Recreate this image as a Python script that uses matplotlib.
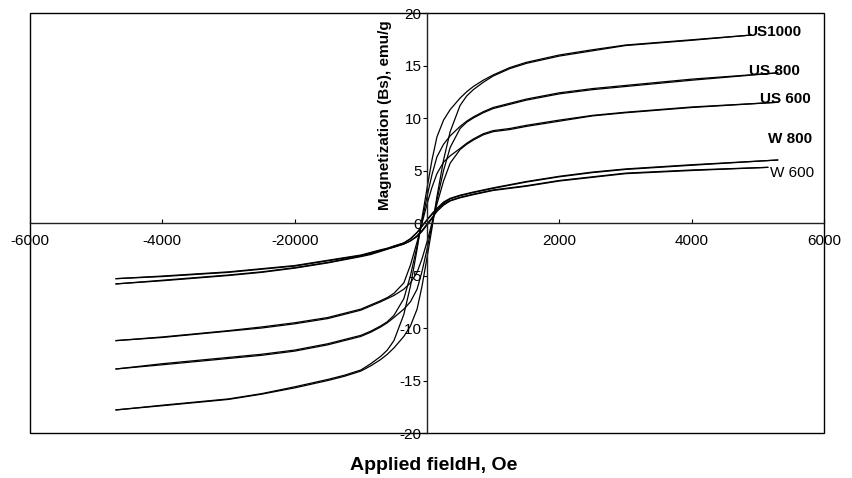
import matplotlib
matplotlib.use('Agg')
from matplotlib import pyplot as plt
from matplotlib.patches import Rectangle

plt.rcParams['font.family'] = ['Liberation Sans', 'DejaVu Sans']
plt.rcParams['axes.unicode_minus'] = False

# applied field (Oe), shared by all branches; last point differs per sample
field = [-4700, -4000, -3500, -3000, -2500, -2000, -1500, -1250, -1000, -850, -700, -600,
         -500, -350, -250, -150, -75, 0, 75, 150, 250, 350, 500, 600, 700, 850, 1000,
         1250, 1500, 2000, 2500, 3000, 3500, 4000]

samples = ['US1000', 'US 800', 'US 600', 'W 800', 'W 600']
field_end = [4900, 5300, 5300, 5300, 5150]

# magnetization (emu/g): ascending (lower) and descending (upper) branch of each loop
us1000_up = [-17.8, -17.4, -17.1, -16.8, -16.3, -15.7, -15.0, -14.6, -14.1, -13.6, -13.0, -12.5,
             -11.9, -10.8, -9.8, -8.2, -6.0, -3.3, -0.5, 2.5, 6.0, 8.7, 11.2, 12.1, 12.7, 13.4, 14.0,
             14.7, 15.2, 15.9, 16.4, 16.9, 17.15, 17.4, 17.9]
us1000_down = [-17.8, -17.35, -17.05, -16.75, -16.25, -15.6, -14.9, -14.5, -14.0, -13.4, -12.7, -12.1,
               -11.2, -8.7, -6.0, -2.5, 0.5, 3.3, 6.0, 8.2, 9.8, 10.8, 11.9, 12.5, 13.0, 13.6, 14.1,
               14.8, 15.3, 16.0, 16.5, 16.95, 17.2, 17.45, 17.9]
us800_up = [-13.9, -13.5, -13.2, -12.9, -12.6, -12.2, -11.6, -11.2, -10.8, -10.4, -9.9, -9.5,
            -9.0, -8.2, -7.5, -6.3, -4.6, -2.5, -0.2, 2.2, 5.0, 7.2, 9.0, 9.6, 10.0, 10.5, 10.9,
            11.3, 11.7, 12.3, 12.7, 13.0, 13.3, 13.6, 14.3]
us800_down = [-13.9, -13.4, -13.1, -12.8, -12.5, -12.1, -11.5, -11.1, -10.7, -10.3, -9.8, -9.4,
              -8.8, -7.2, -5.0, -2.2, 0.2, 2.5, 4.6, 6.3, 7.5, 8.3, 9.2, 9.7, 10.1, 10.6, 11.0,
              11.4, 11.8, 12.4, 12.8, 13.1, 13.4, 13.7, 14.3]
us600_up = [-11.2, -10.9, -10.6, -10.3, -10.0, -9.6, -9.1, -8.7, -8.3, -7.9, -7.5, -7.2,
            -6.9, -6.3, -5.7, -4.7, -3.4, -1.8, 0.0, 1.8, 4.0, 5.7, 7.0, 7.5, 7.9, 8.4, 8.7,
            8.9, 9.2, 9.7, 10.2, 10.5, 10.75, 11.0, 11.5]
us600_down = [-11.2, -10.85, -10.55, -10.25, -9.9, -9.5, -9.0, -8.6, -8.2, -7.8, -7.4, -7.1,
              -6.7, -5.7, -4.0, -1.8, 0.0, 1.8, 3.4, 4.7, 5.8, 6.4, 7.1, 7.6, 8.0, 8.5, 8.8,
              9.0, 9.3, 9.8, 10.25, 10.55, 10.8, 11.05, 11.5]
w800_up = [-5.8, -5.5, -5.25, -5.0, -4.7, -4.3, -3.8, -3.5, -3.2, -3.0, -2.7, -2.5,
           -2.3, -2.0, -1.7, -1.3, -0.8, -0.2, 0.4, 1.2, 1.9, 2.3, 2.6, 2.75, 2.9, 3.1, 3.3,
           3.6, 3.9, 4.4, 4.8, 5.1, 5.3, 5.5, 6.0]
w800_down = [-5.8, -5.45, -5.2, -4.95, -4.65, -4.25, -3.75, -3.45, -3.15, -2.9, -2.65, -2.45,
             -2.2, -1.9, -1.5, -0.9, -0.3, 0.3, 0.9, 1.4, 2.0, 2.35, 2.65, 2.8, 2.95, 3.15, 3.35,
             3.65, 3.95, 4.45, 4.85, 5.15, 5.35, 5.55, 6.0]
w600_up = [-5.3, -5.1, -4.9, -4.7, -4.4, -4.1, -3.6, -3.35, -3.1, -2.85, -2.6, -2.45,
           -2.3, -2.0, -1.7, -1.2, -0.7, -0.1, 0.5, 1.1, 1.7, 2.1, 2.4, 2.55, 2.7, 2.9, 3.1,
           3.3, 3.5, 4.0, 4.35, 4.7, 4.85, 5.0, 5.3]
w600_down = [-5.3, -5.05, -4.85, -4.65, -4.35, -4.05, -3.55, -3.3, -3.05, -2.8, -2.55, -2.4,
             -2.2, -1.9, -1.5, -0.9, -0.3, 0.3, 0.8, 1.3, 1.8, 2.15, 2.45, 2.6, 2.75, 2.95, 3.15,
             3.35, 3.55, 4.05, 4.4, 4.75, 4.9, 5.05, 5.3]

branches_up = [us1000_up, us800_up, us600_up, w800_up, w600_up]
branches_down = [us1000_down, us800_down, us600_down, w800_down, w600_down]

# label anchor (Oe, emu/g) and weight for each sample name
label_h = [4830, 4870, 5030, 5160, 5180]
label_m = [18.2, 14.5, 11.8, 8.0, 4.8]
label_weight = ['bold', 'bold', 'bold', 'bold', 'normal']

x_ticks = [-6000, -4000, -2000, 2000, 4000, 6000]
x_ticklabels = ['-6000', '-4000', '-20000', '2000', '4000', '6000']
y_ticks = [-20, -15, -10, -5, 0, 5, 10, 15, 20]

fig = plt.figure(figsize=(8.53, 4.78), dpi=100)
ax = fig.add_axes([0.0352, 0.0941, 0.9308, 0.8787])

for i in range(len(samples)):
    h = field + [field_end[i]]
    ax.plot(h, branches_up[i], color='black', lw=0.9)
    ax.plot(h, branches_down[i], color='black', lw=0.9)
    ax.text(label_h[i], label_m[i], samples[i], fontsize=11,
            fontweight=label_weight[i], ha='left', va='center')

ax.set_xlim(-6000, 6000)
ax.set_ylim(-20, 20)

# axes cross at the origin, outer frame drawn as a box
ax.spines['left'].set_position(('data', 0))
ax.spines['bottom'].set_position(('data', 0))
ax.spines['top'].set_visible(False)
ax.spines['right'].set_visible(False)
for s in ['left', 'bottom']:
    ax.spines[s].set_color('#222222')
    ax.spines[s].set_linewidth(1.0)
ax.add_patch(Rectangle((0, 0), 1, 1, transform=ax.transAxes, fill=False,
                       edgecolor='black', lw=1.0, clip_on=False))

ax.set_xticks(x_ticks)
ax.set_xticklabels(x_ticklabels)
ax.set_yticks(y_ticks)
ax.tick_params(axis='x', direction='in', length=3, pad=8, labelsize=11)
ax.tick_params(axis='y', direction='out', length=3, pad=1, labelsize=11)

ax.text(0.447, 0.757, 'Magnetization (Bs), emu/g', transform=ax.transAxes,
        rotation=90, fontsize=11, fontweight='bold', ha='center', va='center')
fig.text(434 / 853, 1 - 465 / 478, 'Applied fieldH, Oe', fontsize=14,
         fontweight='bold', ha='center', va='center')

fig.savefig('out.png', dpi=100)
